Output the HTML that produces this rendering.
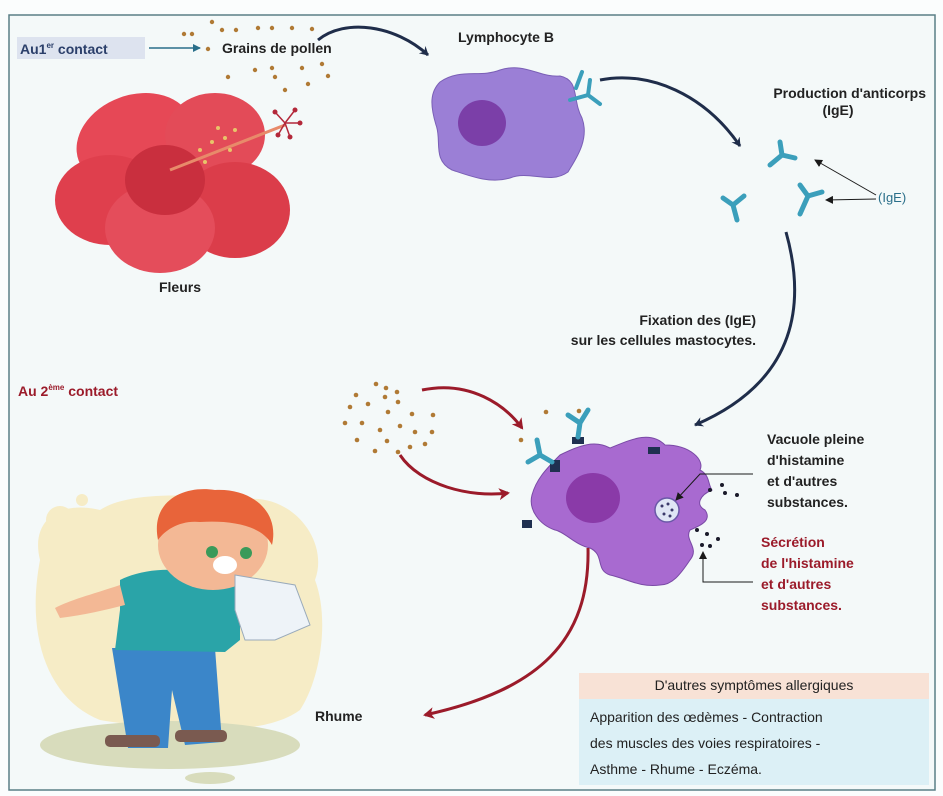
<!DOCTYPE html>
<html><head><meta charset="utf-8"><style>
html,body{margin:0;padding:0;background:#fff}
svg{display:block}
text{font-family:"Liberation Sans",sans-serif}
</style></head><body>
<svg width="943" height="796" viewBox="0 0 943 796" xmlns="http://www.w3.org/2000/svg">
<defs>
<marker id="an" markerWidth="10" markerHeight="10" refX="8" refY="5" orient="auto" markerUnits="userSpaceOnUse"><path d="M0,0 L9,5 L0,10 L3,5Z" fill="#1f2d4a"/></marker>
<marker id="ar" markerWidth="12" markerHeight="12" refX="9" refY="6" orient="auto" markerUnits="userSpaceOnUse"><path d="M0,0 L11,6 L0,12 L3,6Z" fill="#9b1b2a"/></marker>
<marker id="ab" markerWidth="8" markerHeight="8" refX="7" refY="4" orient="auto" markerUnits="userSpaceOnUse"><path d="M0,0 L8,4 L0,8Z" fill="#1a1a1a"/></marker>
<marker id="at" markerWidth="8" markerHeight="8" refX="7" refY="4" orient="auto" markerUnits="userSpaceOnUse"><path d="M0,0 L8,4 L0,8Z" fill="#2a6f8a"/></marker>
</defs>
<rect x="0" y="0" width="943" height="796" fill="#fbfdfd"/>
<rect x="9" y="15" width="926" height="775" fill="#f4f9f9" stroke="#5b7f86" stroke-width="1.5"/>

<!-- top -->
<rect x="17" y="37" width="128" height="22" fill="#dde3ef"/>
<text x="20" y="54" font-size="14" font-weight="bold" fill="#2b3f6a">Au1<tspan font-size="8" dy="-6">er</tspan><tspan dy="6"> contact</tspan></text>
<line x1="149" y1="48" x2="200" y2="48" stroke="#2a6f8a" stroke-width="1.5" marker-end="url(#at)"/>
<text x="222" y="53" font-size="14" font-weight="bold" fill="#222">Grains de pollen</text>
<g fill="#b07a35">
<circle cx="212" cy="22" r="2.2"/><circle cx="222" cy="30" r="2.2"/><circle cx="236" cy="30" r="2.2"/><circle cx="258" cy="28" r="2.2"/><circle cx="272" cy="28" r="2.2"/><circle cx="292" cy="28" r="2.2"/><circle cx="312" cy="29" r="2.2"/><circle cx="184" cy="34" r="2.2"/><circle cx="192" cy="34" r="2.2"/><circle cx="208" cy="49" r="2.2"/>
<circle cx="228" cy="77" r="2.2"/><circle cx="255" cy="70" r="2.2"/><circle cx="272" cy="68" r="2.2"/><circle cx="275" cy="77" r="2.2"/><circle cx="302" cy="68" r="2.2"/><circle cx="322" cy="64" r="2.2"/><circle cx="328" cy="76" r="2.2"/><circle cx="285" cy="90" r="2.2"/><circle cx="308" cy="84" r="2.2"/>
</g>
<path d="M318,40 C345,18 395,25 428,55" fill="none" stroke="#1f2d4a" stroke-width="3" marker-end="url(#an)"/>

<!-- flower -->
<g>
<ellipse cx="135" cy="140" rx="60" ry="45" fill="#e64856" transform="rotate(-20 135 140)"/>
<ellipse cx="110" cy="200" rx="55" ry="45" fill="#df3f4d"/>
<ellipse cx="215" cy="135" rx="50" ry="42" fill="#e34b58"/>
<ellipse cx="235" cy="210" rx="55" ry="48" fill="#db3d4a"/>
<ellipse cx="160" cy="228" rx="55" ry="45" fill="#e44d5b"/>
<ellipse cx="165" cy="180" rx="40" ry="35" fill="#c92f3e"/>
<line x1="170" y1="170" x2="285" y2="125" stroke="#e88a6a" stroke-width="3"/>
<g fill="#e8c46a"><circle cx="200" cy="150" r="2"/><circle cx="212" cy="142" r="2"/><circle cx="225" cy="138" r="2"/><circle cx="235" cy="130" r="2"/><circle cx="205" cy="162" r="2"/><circle cx="218" cy="128" r="2"/><circle cx="230" cy="150" r="2"/></g>
<g stroke="#b3283a" stroke-width="1.5"><line x1="285" y1="123" x2="275" y2="112"/><line x1="285" y1="123" x2="295" y2="110"/><line x1="285" y1="123" x2="300" y2="123"/><line x1="285" y1="123" x2="290" y2="137"/><line x1="285" y1="123" x2="278" y2="135"/></g>
<g fill="#b3283a"><circle cx="275" cy="112" r="2.5"/><circle cx="295" cy="110" r="2.5"/><circle cx="300" cy="123" r="2.5"/><circle cx="290" cy="137" r="2.5"/><circle cx="278" cy="135" r="2.5"/></g>
</g>
<text x="180" y="292" font-size="14" font-weight="bold" fill="#222" text-anchor="middle">Fleurs</text>

<!-- lymphocyte -->
<text x="458" y="42" font-size="14" font-weight="bold" fill="#222">Lymphocyte B</text>
<path d="M440,82 C460,68 480,78 500,70 C525,62 540,78 560,76 C580,80 572,100 582,118 C590,140 575,160 568,172 C550,185 530,170 510,178 C490,184 470,176 452,170 C432,160 442,140 436,125 C430,105 430,92 440,82Z" fill="#9b7fd6" stroke="#7a5fb6" stroke-width="1"/>
<ellipse cx="482" cy="123" rx="24" ry="23" fill="#7b3fa8"/>
<g stroke="#3b9fbb" stroke-width="4" fill="none" stroke-linecap="round">
<path d="M570,100 L588,95 L590,80 M588,95 L600,104"/>
<path d="M576,88 L582,72"/>
</g>
<path d="M600,80 C650,70 705,95 740,146" fill="none" stroke="#1f2d4a" stroke-width="3" marker-end="url(#an)"/>
<text x="926" y="98" font-size="14" font-weight="bold" fill="#222" text-anchor="end">Production d'anticorps</text>
<text x="838" y="115" font-size="14" font-weight="bold" fill="#222" text-anchor="middle">(IgE)</text>
<!-- IgE Ys -->
<g stroke="#3b9fbb" stroke-width="5" fill="none" stroke-linecap="round">
<path d="M770,165 L782,155 L780,142 M782,155 L795,158"/>
<path d="M737,220 L733,205 L723,198 M733,205 L744,196"/>
<path d="M800,214 L808,196 L800,185 M808,196 L822,192"/>
</g>
<line x1="876" y1="195" x2="815" y2="160" stroke="#1a1a1a" stroke-width="1" marker-end="url(#ab)"/>
<line x1="876" y1="199" x2="826" y2="200" stroke="#1a1a1a" stroke-width="1" marker-end="url(#ab)"/>
<text x="878" y="202" font-size="13" fill="#2a6f8a">(IgE)</text>
<path d="M786,232 C805,300 800,380 695,425" fill="none" stroke="#1f2d4a" stroke-width="3" marker-end="url(#an)"/>
<text x="756" y="325" font-size="14" font-weight="bold" fill="#222" text-anchor="end">Fixation des (IgE)</text>
<text x="756" y="345" font-size="14" font-weight="bold" fill="#222" text-anchor="end">sur les cellules mastocytes.</text>

<!-- second contact -->
<text x="18" y="396" font-size="14" font-weight="bold" fill="#9b1b2a">Au 2<tspan font-size="8" dy="-6">ème</tspan><tspan dy="6"> contact</tspan></text>
<g fill="#b07a35">
<circle cx="376" cy="384" r="2.3"/><circle cx="386" cy="388" r="2.3"/><circle cx="397" cy="392" r="2.3"/><circle cx="385" cy="397" r="2.3"/><circle cx="356" cy="395" r="2.3"/><circle cx="350" cy="407" r="2.3"/><circle cx="368" cy="404" r="2.3"/><circle cx="388" cy="412" r="2.3"/><circle cx="398" cy="402" r="2.3"/><circle cx="412" cy="414" r="2.3"/><circle cx="433" cy="415" r="2.3"/><circle cx="345" cy="423" r="2.3"/><circle cx="362" cy="423" r="2.3"/><circle cx="380" cy="430" r="2.3"/><circle cx="400" cy="426" r="2.3"/><circle cx="415" cy="432" r="2.3"/><circle cx="432" cy="432" r="2.3"/><circle cx="357" cy="440" r="2.3"/><circle cx="387" cy="441" r="2.3"/><circle cx="410" cy="447" r="2.3"/><circle cx="425" cy="444" r="2.3"/><circle cx="375" cy="451" r="2.3"/><circle cx="398" cy="452" r="2.3"/>
</g>
<path d="M422,390 C470,380 505,405 522,428" fill="none" stroke="#9b1b2a" stroke-width="3" marker-end="url(#ar)"/>
<path d="M400,455 C420,485 470,498 508,493" fill="none" stroke="#9b1b2a" stroke-width="3" marker-end="url(#ar)"/>

<!-- mast cell -->
<path d="M560,455 C580,445 595,440 610,448 C630,440 650,430 665,445 C690,445 705,460 700,470 C710,475 708,485 712,490 C700,495 695,505 705,510 C712,520 702,525 690,530 C684,540 700,548 690,560 C680,575 672,585 660,585 C640,588 625,578 610,575 C595,570 605,555 590,548 C575,545 565,532 555,530 C540,525 528,510 532,495 C536,480 545,470 560,455Z" fill="#a86ad0" stroke="#7a4aa6" stroke-width="1"/>
<ellipse cx="593" cy="498" rx="27" ry="25" fill="#8a3aa8"/>
<circle cx="667" cy="510" r="12" fill="#dfe6f5" stroke="#6b58a8" stroke-width="1.5"/>
<g fill="#3a3a6a"><circle cx="662" cy="506" r="1.5"/><circle cx="668" cy="504" r="1.5"/><circle cx="672" cy="510" r="1.5"/><circle cx="664" cy="514" r="1.5"/><circle cx="670" cy="516" r="1.5"/></g>
<g fill="#1f3050"><rect x="572" y="437" width="12" height="7"/><rect x="550" y="460" width="10" height="12"/><rect x="648" y="447" width="12" height="7"/><rect x="522" y="520" width="10" height="8"/></g>
<g stroke="#3b9fbb" stroke-width="5" fill="none" stroke-linecap="round">
<path d="M578,437 L580,423 L568,415 M580,423 L588,410"/>
<path d="M552,462 L540,455 L528,462 M540,455 L537,440"/>
</g>
<g fill="#b07a35"><circle cx="546" cy="412" r="2.3"/><circle cx="521" cy="440" r="2.3"/><circle cx="579" cy="411" r="2.3"/></g>
<g fill="#1a1a2a"><circle cx="710" cy="490" r="2"/><circle cx="725" cy="493" r="2"/><circle cx="737" cy="495" r="2"/><circle cx="722" cy="485" r="2"/><circle cx="697" cy="530" r="2"/><circle cx="707" cy="534" r="2"/><circle cx="718" cy="539" r="2"/><circle cx="702" cy="545" r="2"/><circle cx="710" cy="546" r="2"/></g>
<polyline points="753,474 700,474 676,500" fill="none" stroke="#1a1a1a" stroke-width="1" marker-end="url(#ab)"/>
<polyline points="753,582 703,582 703,552" fill="none" stroke="#1a1a1a" stroke-width="1" marker-end="url(#ab)"/>
<g font-size="14" font-weight="bold" fill="#222">
<text x="767" y="444">Vacuole pleine</text><text x="767" y="465">d'histamine</text><text x="767" y="486">et d'autres</text><text x="767" y="507">substances.</text>
</g>
<g font-size="14" font-weight="bold" fill="#9b1b2a">
<text x="761" y="547">Sécrétion</text><text x="761" y="568">de l'histamine</text><text x="761" y="589">et d'autres</text><text x="761" y="610">substances.</text>
</g>
<path d="M588,548 C590,640 540,690 425,715" fill="none" stroke="#9b1b2a" stroke-width="3" marker-end="url(#ar)"/>
<text x="315" y="721" font-size="14" font-weight="bold" fill="#222">Rhume</text>

<!-- symptoms -->
<rect x="579" y="673" width="350" height="26" fill="#f8e2d6"/>
<rect x="579" y="699" width="350" height="86" fill="#dcf0f6"/>
<text x="754" y="690" font-size="14" fill="#222" text-anchor="middle">D'autres symptômes allergiques</text>
<g font-size="14" fill="#222"><text x="590" y="722">Apparition des œdèmes - Contraction</text><text x="590" y="748">des muscles des voies respiratoires -</text><text x="590" y="774">Asthme - Rhume - Eczéma.</text></g>

<!-- boy -->
<path d="M40,560 C30,520 60,500 100,510 C130,490 200,495 240,500 C290,490 330,540 315,580 C330,620 320,680 300,710 C260,740 160,730 100,720 C50,700 25,640 40,560Z" fill="#f6ecc6"/>
<circle cx="60" cy="520" r="14" fill="#f6ecc6"/><circle cx="82" cy="500" r="6" fill="#f6ecc6"/><circle cx="295" cy="700" r="8" fill="#f6ecc6"/>
<ellipse cx="170" cy="745" rx="130" ry="24" fill="#d8dcbc"/>
<ellipse cx="210" cy="778" rx="25" ry="6" fill="#d8dcbc"/>
<path d="M112,648 L128,748 L168,748 L172,690 L185,745 L222,742 L215,648Z" fill="#3b86c9"/>
<rect x="105" y="735" width="55" height="12" rx="5" fill="#7a5a50"/><rect x="175" y="730" width="52" height="12" rx="5" fill="#7a5a50"/>
<path d="M120,580 C150,565 200,565 240,590 L240,640 L225,652 L115,650 L120,610Z" fill="#2aa4a8"/>
<path d="M120,585 C90,595 70,600 55,608 L60,618 C85,615 105,610 125,605Z" fill="#f3b895"/>
<path d="M220,580 C260,575 300,585 300,600 L290,608 L235,605Z" fill="#2aa4a8"/>
<path d="M240,590 C265,585 280,600 255,610" fill="#f3b895"/>
<ellipse cx="213" cy="545" rx="55" ry="45" fill="#f3b895"/>
<path d="M158,540 C150,500 185,485 215,490 C250,488 280,510 272,545 C262,525 230,520 200,522 C180,520 165,530 158,540Z" fill="#e8643a"/>
<circle cx="212" cy="552" r="6" fill="#3a9a5a"/><circle cx="246" cy="553" r="6" fill="#3a9a5a"/>
<ellipse cx="225" cy="565" rx="12" ry="9" fill="#fff"/>
<path d="M235,575 L295,585 L310,625 L275,640 L245,640 L235,610Z" fill="#eef3f8" stroke="#9ab" stroke-width="1"/>
</svg>
</body></html>
